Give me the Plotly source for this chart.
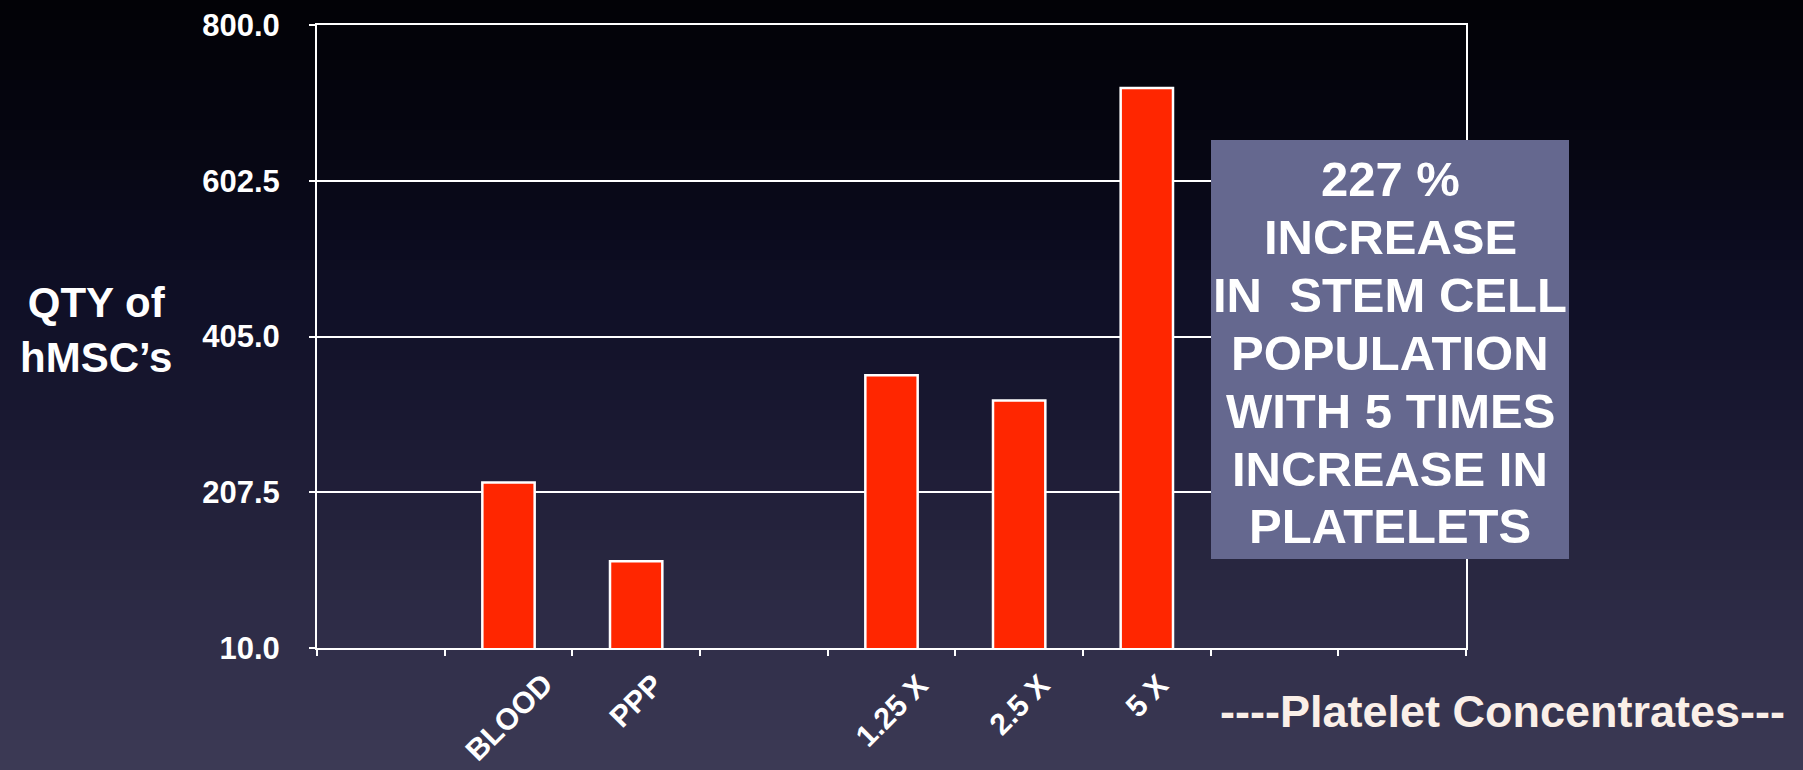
import plotly.graph_objects as go

# ---------------- data ----------------
categories = [" ", "BLOOD", "PPP", "  ", "1.25 X", "2.5 X", "5 X", "   ", "    "]
bar_labels = ["BLOOD", "PPP", "1.25 X", "2.5 X", "5 X"]
bar_values = [220, 120, 356, 324, 720]
y_ticks = [10.0, 207.5, 405.0, 602.5, 800.0]
y_tick_text = ["10.0", "207.5", "405.0", "602.5", "800.0"]
callout_lines = ["227 %", "INCREASE", "IN\u00a0 STEM CELL", "POPULATION",
                 "WITH 5 TIMES", "INCREASE IN", "PLATELETS"]
y_title = "QTY of<br>hMSC\u2019s"
x_title = "----Platelet Concentrates---"

# ---------------- layout geometry ----------------
W, H = 1803, 770
L, R, T, B = 317, 337, 25, 122
PW = W - L - R
PH = H - T - B
FONT = "Liberation Sans, Arial, sans-serif"


def fx(px):
    return (px - L) / PW


def fy(py):
    return (H - B - py) / PH


# background gradient (top black -> dark slate purple)
grad_stops = [(0, (2, 2, 6)), (150, (6, 6, 18)), (300, (15, 15, 38)),
              (450, (28, 27, 52)), (600, (44, 42, 68)), (770, (60, 58, 86))]


def grad_color(py):
    for (y0, c0), (y1, c1) in zip(grad_stops[:-1], grad_stops[1:]):
        if y0 <= py <= y1:
            t = (py - y0) / (y1 - y0)
            return "rgb(%d,%d,%d)" % tuple(round(a + (b - a) * t) for a, b in zip(c0, c1))
    return "rgb(%d,%d,%d)" % grad_stops[-1][1]


shapes = []
band = 10
for py in range(0, H, band):
    shapes.append(dict(type="rect", xref="paper", yref="paper", layer="below",
                       x0=fx(-5), x1=fx(W + 5), y0=fy(py + band + 1), y1=fy(py),
                       line=dict(width=0), fillcolor=grad_color(py + band / 2)))

# callout box
box_l, box_r, box_t, box_b = 1211, 1569, 140, 559
shapes.append(dict(type="rect", xref="paper", yref="paper", layer="above",
                   x0=fx(box_l), x1=fx(box_r), y0=fy(box_b), y1=fy(box_t),
                   line=dict(width=0), fillcolor="#65688f"))

annotations = []
line_top, line_pitch = 179, 57.9
for i, txt in enumerate(callout_lines):
    annotations.append(dict(xref="paper", yref="paper", x=fx((box_l + box_r) / 2),
                            y=fy(line_top + i * line_pitch), text=txt, showarrow=False,
                            xanchor="center", yanchor="middle",
                            font=dict(family=FONT, size=49, color="white", weight="bold")))

# category labels (rotated, centred under each bar)
for lab in bar_labels:
    annotations.append(dict(xref="x", yref="paper", x=lab, y=fy(665), text=lab,
                            showarrow=False, textangle=-45, xanchor="center", yanchor="top",
                            font=dict(family=FONT, size=30, color="white", weight="bold")))

annotations.append(dict(xref="paper", yref="paper", x=fx(96), y=fy(330), text=y_title,
                        showarrow=False, xanchor="center", yanchor="middle", align="center",
                        font=dict(family=FONT, size=42, color="white", weight="bold")))
annotations.append(dict(xref="paper", yref="paper", x=fx(1502), y=fy(712), text=x_title,
                        showarrow=False, xanchor="center", yanchor="middle",
                        font=dict(family=FONT, size=45, color="#faefe8", weight="bold")))

fig = go.Figure()
fig.add_trace(go.Bar(x=bar_labels, y=bar_values, width=0.41,
                     marker=dict(color="#ff2600", line=dict(color="white", width=2.5)),
                     hoverinfo="skip"))

fig.update_layout(
    width=W, height=H,
    margin=dict(l=L, r=R, t=T, b=B, autoexpand=False),
    paper_bgcolor="rgba(0,0,0,0)", plot_bgcolor="rgba(0,0,0,0)",
    showlegend=False,
    shapes=shapes, annotations=annotations,
    xaxis=dict(type="category", categoryorder="array", categoryarray=categories,
               range=[-0.5, len(categories) - 0.5], tickson="boundaries",
               ticks="outside", ticklen=6, tickwidth=2, tickcolor="white",
               showline=True, linecolor="white", linewidth=2, mirror=True,
               showgrid=False, showticklabels=False, automargin=False),
    yaxis=dict(range=[10, 800], tickmode="array", tickvals=y_ticks, ticktext=y_tick_text,
               showgrid=True, gridcolor="white", gridwidth=2, zeroline=False,
               ticks="outside", ticklen=6, tickwidth=2, tickcolor="white",
               showline=True, linecolor="white", linewidth=2, mirror=True,
               automargin=False, ticklabelstandoff=23,
               tickfont=dict(family=FONT, size=31, color="white", weight="bold")),
)

fig.write_html("out.html", config={"displayModeBar": False})
